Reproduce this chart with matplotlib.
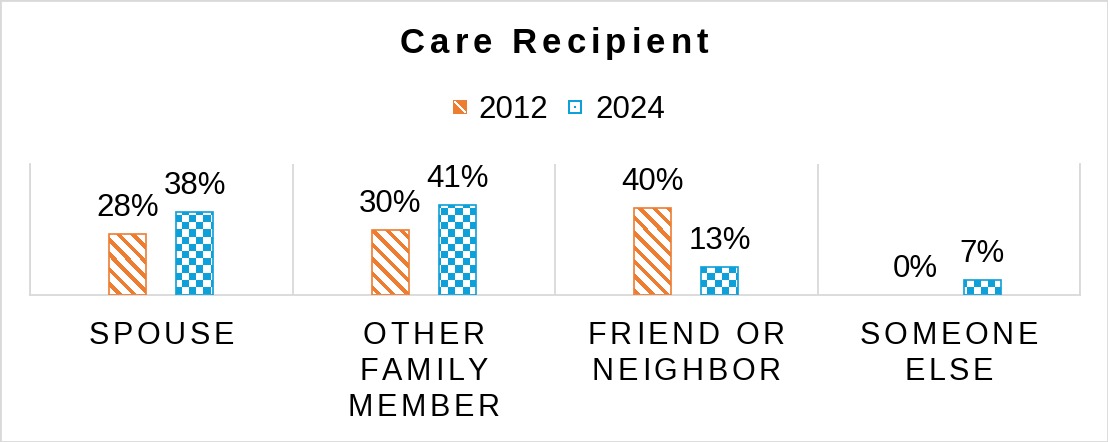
import numpy as np
import matplotlib
matplotlib.use('Agg')
import matplotlib.pyplot as plt
from matplotlib.patches import Rectangle
from matplotlib.colors import ListedColormap, to_rgba
from matplotlib.font_manager import FontProperties, findfont
from matplotlib.ft2font import FT2Font

# survey shares by care recipient
categories = ['SPOUSE', 'OTHER\nFAMILY\nMEMBER', 'FRIEND OR\nNEIGHBOR', 'SOMEONE\nELSE']
years = ['2012', '2024']
share_2012 = [0.28, 0.30, 0.40, 0.00]
share_2024 = [0.38, 0.41, 0.13, 0.07]

W, H = 1108, 442
DPI = 100
ORANGE = '#ED7D31'
BLUE = '#0EA0D8'
GRID = '#D9D9D9'
FONT = 'Liberation Sans'
LABEL_SIZE = 22
VALUE_SIZE = 22.5

plt.rcParams['font.family'] = [FONT, 'DejaVu Sans']

fig = plt.figure(figsize=(W / DPI, H / DPI), dpi=DPI)
AX_L, AX_B, AX_W, AX_H = 30, 147, 1050, 131
ax = fig.add_axes([AX_L / W, AX_B / H, AX_W / W, AX_H / H])

x = np.arange(len(categories))
bw = 0.14
off = 0.128
YMAX = 0.6

bars12 = ax.bar(x - off, share_2012, bw, facecolor='none', edgecolor=ORANGE,
                linewidth=1.2, zorder=3)
bars24 = ax.bar(x + off, share_2024, bw, facecolor='none', edgecolor=BLUE,
                linewidth=1.2, zorder=3)
for bars, vals in ((bars12, share_2012), (bars24, share_2024)):
    for p, v in zip(bars, vals):
        if v == 0:
            p.set_linewidth(0)

# pixel fill patterns laid over the plot area, clipped to the bars
rows = np.arange(AX_H)[:, None]
cols = np.arange(AX_W)[None, :]
stripes = (((cols - rows) % 14.4) < 5.5).astype(int)
checker = ((cols // 7.2).astype(int) + (rows // 7.2).astype(int)) % 2

for bars, pattern, color in ((bars12, stripes, ORANGE), (bars24, checker, BLUE)):
    cmap = ListedColormap(['white', color])
    for p in bars:
        im = ax.imshow(pattern, cmap=cmap, vmin=0, vmax=1, extent=(-0.5, 3.5, 0, YMAX),
                       origin='upper', interpolation='nearest', aspect='auto', zorder=2)
        im.set_clip_path(p)

ax.set_xlim(-0.5, 3.5)
ax.set_ylim(0, YMAX)

# category separators
ax.set_xticks(np.arange(-0.5, 4, 1))
ax.set_yticks([])
ax.tick_params(length=0, labelbottom=False)
ax.grid(axis='x', color=GRID, linewidth=1.3)
ax.set_axisbelow(True)
ax.spines['top'].set_visible(False)
for s in ('left', 'right', 'bottom'):
    ax.spines[s].set_color(GRID)
    ax.spines[s].set_linewidth(1.3)

# value labels
for bars, vals in ((bars12, share_2012), (bars24, share_2024)):
    for p, v in zip(bars, vals):
        ax.annotate(f'{v * 100:.0f}%', xy=(p.get_x() + p.get_width() / 2, v),
                    xytext=(0, 18), textcoords='offset pixels',
                    ha='center', va='baseline', fontsize=VALUE_SIZE, color='black')


def advances(text, prop):
    font = FT2Font(findfont(prop))
    font.set_size(prop.get_size_in_points(), DPI)
    return [font.load_char(ord(c)).linearHoriAdvance / 65536 for c in text]


def spaced(xc, yb, text, size, gap, weight='normal'):
    # letter-spaced text centred on xc (pixels), baseline at yb (pixels from bottom)
    prop = FontProperties(family=FONT, size=size, weight=weight)
    adv = advances(text, prop)
    total = sum(adv) + gap * (len(text) - 1)
    x0 = xc - total / 2
    for c, a in zip(text, adv):
        fig.text(x0 / W, yb / H, c, fontproperties=prop, ha='left', va='baseline')
        x0 += a + gap


spaced(W / 2, H - 53, 'Care Recipient', 25, 5.0, 'bold')

fig.canvas.draw()
for i, lab in enumerate(categories):
    xc = ax.transData.transform((x[i], 0))[0]
    for j, line in enumerate(lab.split('\n')):
        spaced(xc, H - 344 - 36 * j, line, LABEL_SIZE, 3.7)

# legend swatches
n = 14
r = np.arange(n)[:, None]
c = np.arange(n)[None, :]
white = np.array(to_rgba('white'))
sw12 = np.tile(np.array(to_rgba(ORANGE)), (n, n, 1))
band = (np.abs(c - r) <= 1) & (r > 0) & (r < n - 1) & (c > 0) & (c < n - 1)
sw12[band] = white
sw24 = np.tile(np.array(to_rgba(BLUE)), (n, n, 1))
inner = (r >= 2) & (r <= n - 3) & (c >= 2) & (c <= n - 3)
core = (r >= 6) & (r <= 7) & (c >= 6) & (c <= 7)
sw24[inner & ~core] = white
fig.figimage(sw12, xo=453, yo=H - 114, origin='upper', zorder=3)
fig.figimage(sw24, xo=568, yo=H - 114, origin='upper', zorder=3)
fig.text(478 / W, (H - 118) / H, years[0], fontsize=VALUE_SIZE, va='baseline')
fig.text(595 / W, (H - 118) / H, years[1], fontsize=VALUE_SIZE, va='baseline')

# chart border
fig.add_artist(Rectangle((0, 0), 1, 1, transform=fig.transFigure, fill=False,
                         edgecolor=GRID, linewidth=2))

fig.savefig('out.png', dpi=DPI)
